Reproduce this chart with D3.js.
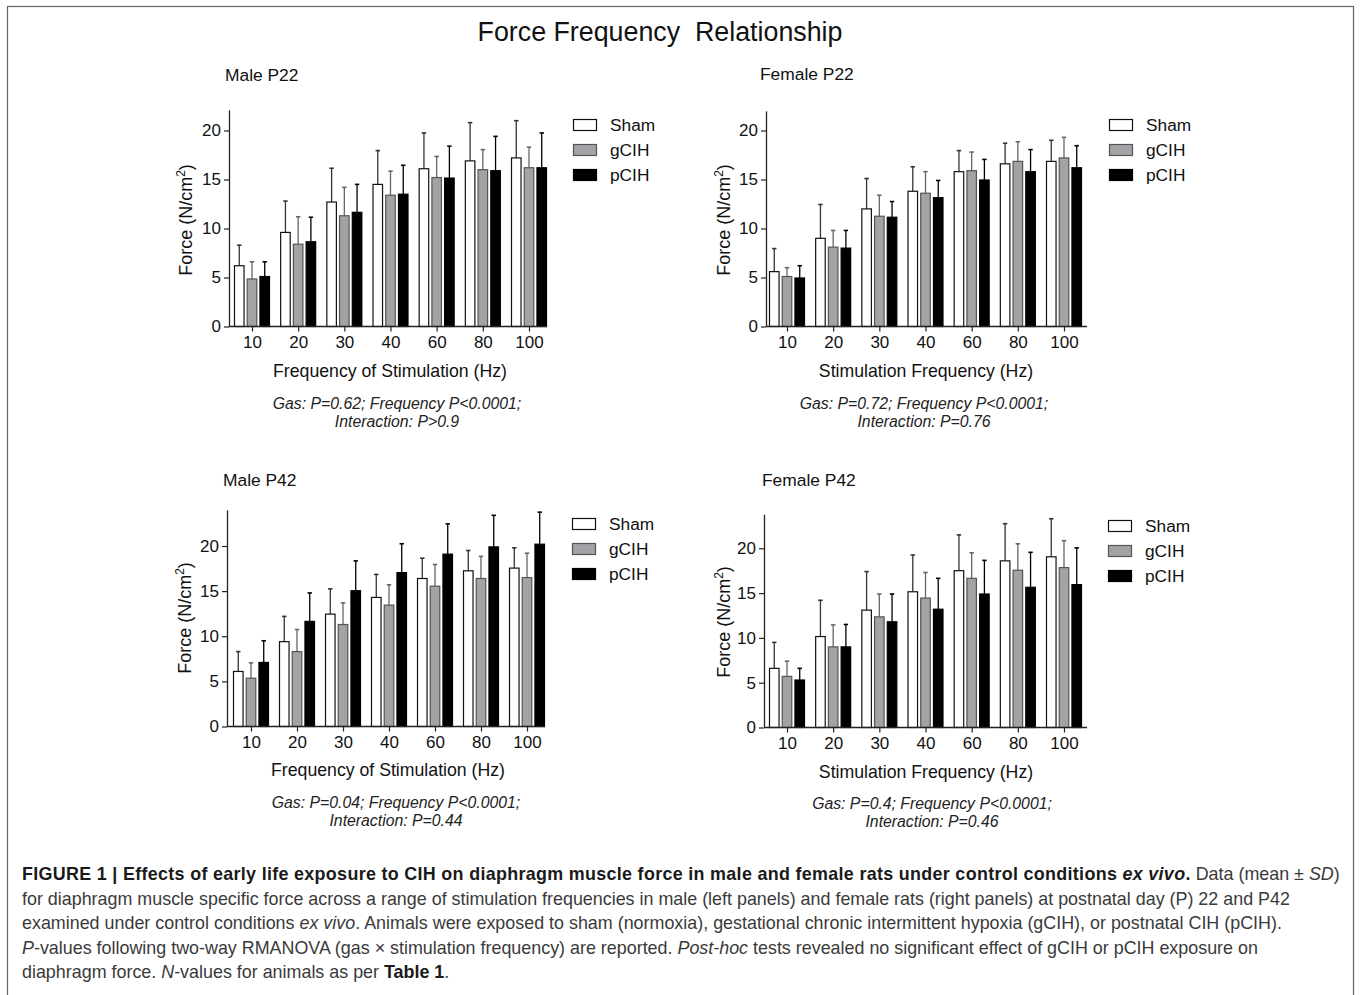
<!DOCTYPE html>
<html lang="en">
<head>
<meta charset="UTF-8">
<title>Force Frequency Relationship</title>
<script src="https://cdn.jsdelivr.net/npm/d3@7"></script>
<style>
  body { margin: 0; background: #fff; }
  text { font-family: "Liberation Sans", Arial, Helvetica, sans-serif; }
</style>
</head>
<body>
<svg id="fig" width="1360" height="995"></svg>
<script>
// ---- data (mean and SD, N/cm2) ----
const freqs = ["10", "20", "30", "40", "60", "80", "100"];
const groups = ["Sham", "gCIH", "pCIH"];
const yTicks = [0, 5, 10, 15, 20];

const maleP22Sham = [6.2, 9.6, 12.7, 14.5, 16.1, 16.9, 17.2];
const maleP22ShamSD = [2.1, 3.2, 3.45, 3.45, 3.65, 3.9, 3.8];
const maleP22gCIH = [4.85, 8.4, 11.3, 13.4, 15.2, 16.0, 16.2];
const maleP22gCIHSD = [1.75, 2.8, 2.9, 2.45, 2.15, 2.05, 2.1];
const maleP22pCIH = [5.1, 8.65, 11.65, 13.5, 15.15, 15.9, 16.2];
const maleP22pCIHSD = [1.5, 2.5, 2.85, 2.95, 3.25, 3.5, 3.55];

const femaleP22Sham = [5.6, 9.0, 12.0, 13.8, 15.8, 16.6, 16.85];
const femaleP22ShamSD = [2.35, 3.45, 3.1, 2.5, 2.15, 2.1, 2.15];
const femaleP22gCIH = [5.1, 8.1, 11.25, 13.6, 15.9, 16.85, 17.2];
const femaleP22gCIHSD = [0.9, 1.7, 2.15, 2.2, 1.9, 2.0, 2.1];
const femaleP22pCIH = [4.95, 8.0, 11.15, 13.15, 14.95, 15.8, 16.2];
const femaleP22pCIHSD = [1.25, 1.8, 1.6, 1.75, 2.1, 2.25, 2.25];

const maleP42Sham = [6.1, 9.4, 12.45, 14.3, 16.4, 17.25, 17.55];
const maleP42ShamSD = [2.2, 2.8, 2.8, 2.55, 2.25, 2.25, 2.25];
const maleP42gCIH = [5.35, 8.3, 11.3, 13.45, 15.55, 16.4, 16.5];
const maleP42gCIHSD = [1.7, 2.45, 2.4, 2.25, 2.4, 2.45, 2.7];
const maleP42pCIH = [7.1, 11.65, 15.05, 17.05, 19.1, 19.9, 20.2];
const maleP42pCIHSD = [2.4, 3.15, 3.3, 3.2, 3.35, 3.5, 3.55];

const femaleP42Sham = [6.6, 10.15, 13.1, 15.15, 17.5, 18.6, 19.05];
const femaleP42ShamSD = [2.9, 4.05, 4.3, 4.1, 4.0, 4.15, 4.25];
const femaleP42gCIH = [5.7, 9.0, 12.35, 14.45, 16.65, 17.55, 17.85];
const femaleP42gCIHSD = [1.7, 2.45, 2.55, 2.85, 2.85, 2.95, 3.0];
const femaleP42pCIH = [5.3, 9.0, 11.8, 13.2, 14.9, 15.65, 15.95];
const femaleP42pCIHSD = [1.3, 2.5, 3.1, 3.45, 3.75, 3.9, 4.1];

const panelTitles = ["Male P22", "Female P22", "Male P42", "Female P42"];
const xTitles = ["Frequency of Stimulation (Hz)", "Stimulation Frequency (Hz)",
                 "Frequency of Stimulation (Hz)", "Stimulation Frequency (Hz)"];
const statLines = [
  ["Gas: P=0.62; Frequency P<0.0001;", "Interaction: P>0.9"],
  ["Gas: P=0.72; Frequency P<0.0001;", "Interaction: P=0.76"],
  ["Gas: P=0.04; Frequency P<0.0001;", "Interaction: P=0.44"],
  ["Gas: P=0.4; Frequency P<0.0001;", "Interaction: P=0.46"]
];

const panelData = [
  [[maleP22Sham, maleP22ShamSD], [maleP22gCIH, maleP22gCIHSD], [maleP22pCIH, maleP22pCIHSD]],
  [[femaleP22Sham, femaleP22ShamSD], [femaleP22gCIH, femaleP22gCIHSD], [femaleP22pCIH, femaleP22pCIHSD]],
  [[maleP42Sham, maleP42ShamSD], [maleP42gCIH, maleP42gCIHSD], [maleP42pCIH, maleP42pCIHSD]],
  [[femaleP42Sham, femaleP42ShamSD], [femaleP42gCIH, femaleP42gCIHSD], [femaleP42pCIH, femaleP42pCIHSD]]
];

// ---- layout (pixels) ----
const layout = [
  {ax0: 229, ax1: 547, c0: 252, c1: 529, y0: 326.5, y20: 130.5, top: 22.1,
   title: [225, 81], ylab: [186, 220], xlab: [390, 377], stat: [397, 409], leg: [573, 119]},
  {ax0: 766, ax1: 1087, c0: 787, c1: 1064, y0: 326.5, y20: 130.5, top: 22.0,
   title: [760, 80], ylab: [724, 220], xlab: [926, 377], stat: [924, 409], leg: [1109, 119]},
  {ax0: 227, ax1: 545, c0: 251, c1: 527, y0: 726.5, y20: 546, top: 24.0,
   title: [223, 486], ylab: [185, 618], xlab: [388, 776], stat: [396, 808], leg: [572, 518]},
  {ax0: 764, ax1: 1087, c0: 787, c1: 1064, y0: 727.5, y20: 548.3, top: 23.8,
   title: [762, 486], ylab: [724, 622], xlab: [926, 778], stat: [932, 809], leg: [1108, 520]}
];

const fills = {Sham: "#ffffff", gCIH: "#a3a3a7", pCIH: "#000000"};
const strokes = {Sham: "#111", gCIH: "#555", pCIH: "#000"};
const errColor = {Sham: "#333", gCIH: "#666", pCIH: "#000"};

const svg = d3.select("#fig");

// frame
svg.append("rect")
  .attr("x", 7.5).attr("y", 6.5).attr("width", 1346).attr("height", 1000)
  .attr("fill", "none").attr("stroke", "#666").attr("stroke-width", 1.2);

svg.append("text")
  .attr("x", 660).attr("y", 41).attr("text-anchor", "middle")
  .attr("font-size", 26.8).attr("fill", "#111")
  .attr("xml:space", "preserve")
  .text("Force Frequency  Relationship");

layout.forEach((L, p) => {
  const g = svg.append("g");
  const ppu = (L.y0 - L.y20) / 20;
  const y = d3.scaleLinear().domain([0, L.top]).range([L.y0, L.y0 - L.top * ppu]);
  const x = d3.scalePoint().domain(freqs).range([L.c0, L.c1]);
  const inner = d3.scaleBand().domain(groups).range([-17.5, 17.5]).paddingInner(0.25);

  // panel title
  g.append("text").attr("x", L.title[0]).attr("y", L.title[1])
    .attr("font-size", 17.4).attr("fill", "#111").text(panelTitles[p]);

  const rows = [];
  groups.forEach((grp, gi) => {
    freqs.forEach((f, fi) => {
      rows.push({grp, f, mean: panelData[p][gi][0][fi], sd: panelData[p][gi][1][fi]});
    });
  });

  // error bars (upper only, drawn behind the bars)
  const cx = d => x(d.f) + inner(d.grp) + inner.bandwidth() / 2;
  const eb = g.selectAll(".err").data(rows).enter().append("g").attr("class", "err")
    .attr("stroke", d => errColor[d.grp]).attr("stroke-width", 1.3);
  eb.append("line")
    .attr("x1", cx).attr("x2", cx)
    .attr("y1", d => y(d.mean)).attr("y2", d => y(d.mean + d.sd));
  eb.append("line")
    .attr("x1", d => cx(d) - 2.2).attr("x2", d => cx(d) + 2.2)
    .attr("y1", d => y(d.mean + d.sd)).attr("y2", d => y(d.mean + d.sd))
    .attr("stroke-width", 1.6);

  g.selectAll(".bar").data(rows).enter().append("rect").attr("class", "bar")
    .attr("x", d => x(d.f) + inner(d.grp))
    .attr("width", inner.bandwidth())
    .attr("y", d => y(d.mean))
    .attr("height", d => y(0) - y(d.mean))
    .attr("fill", d => fills[d.grp])
    .attr("stroke", d => strokes[d.grp])
    .attr("stroke-width", 1.2);

  // y axis
  const ya = g.append("g").attr("transform", `translate(${L.ax0},0)`)
    .call(d3.axisLeft(y).tickValues(yTicks).tickSize(5).tickSizeOuter(0).tickPadding(3));
  ya.select(".domain").attr("stroke", "#222").attr("stroke-width", 1.3);
  ya.selectAll(".tick line").attr("stroke", "#222").attr("stroke-width", 1.2);
  ya.selectAll(".tick text").attr("font-size", 17).attr("fill", "#111")
    .attr("font-family", "Liberation Sans, Arial, sans-serif");

  // x axis
  const xa = g.append("g").attr("transform", `translate(0,${L.y0})`)
    .call(d3.axisBottom(x).tickSize(5).tickPadding(4));
  xa.select(".domain").remove();
  xa.append("line").attr("x1", L.ax0).attr("x2", L.ax1)
    .attr("stroke", "#222").attr("stroke-width", 1.3);
  xa.selectAll(".tick line").attr("stroke", "#222").attr("stroke-width", 1.2);
  xa.selectAll(".tick text").attr("font-size", 17).attr("fill", "#111")
    .attr("font-family", "Liberation Sans, Arial, sans-serif");

  // axis titles
  const yl = g.append("text")
    .attr("transform", `translate(${L.ylab[0] + 6},${L.ylab[1]}) rotate(-90)`)
    .attr("text-anchor", "middle").attr("font-size", 18).attr("fill", "#111");
  yl.append("tspan").text("Force (N/cm");
  yl.append("tspan").attr("font-size", 12).attr("dy", -7).text("2");
  yl.append("tspan").attr("dy", 7).text(")");

  g.append("text").attr("x", L.xlab[0]).attr("y", L.xlab[1])
    .attr("text-anchor", "middle").attr("font-size", 17.7).attr("fill", "#111")
    .text(xTitles[p]);

  g.selectAll(".stat").data(statLines[p]).enter().append("text")
    .attr("x", L.stat[0]).attr("y", (d, i) => L.stat[1] + i * 18)
    .attr("text-anchor", "middle").attr("font-size", 15.8)
    .attr("font-style", "italic").attr("fill", "#222").text(d => d);

  // legend
  const lg = g.selectAll(".leg").data(groups).enter().append("g")
    .attr("transform", (d, i) => `translate(${L.leg[0]},${L.leg[1] + i * 25})`);
  lg.append("rect").attr("x", 0.5).attr("y", 0.5).attr("width", 23).attr("height", 11)
    .attr("fill", d => fills[d]).attr("stroke", d => strokes[d]).attr("stroke-width", 1.2);
  lg.append("text").attr("x", 37).attr("y", 12).attr("font-size", 17.3)
    .attr("fill", "#111").text(d => d);
});

// caption
const captionLines = [
  [["b", "FIGURE 1 | Effects of early life exposure to CIH on diaphragm muscle force in male and female rats under control conditions "],
   ["bi", "ex vivo"], ["b", "."], ["n", " Data (mean \u00b1 "], ["i", "SD"], ["n", ")"]],
  [["n", "for diaphragm muscle specific force across a range of stimulation frequencies in male (left panels) and female rats (right panels) at postnatal day (P) 22 and P42"]],
  [["n", "examined under control conditions "], ["i", "ex vivo"],
   ["n", ". Animals were exposed to sham (normoxia), gestational chronic intermittent hypoxia (gCIH), or postnatal CIH (pCIH)."]],
  [["i", "P"], ["n", "-values following two-way RMANOVA (gas \u00d7 stimulation frequency) are reported. "],
   ["i", "Post-hoc"], ["n", " tests revealed no significant effect of gCIH or pCIH exposure on"]],
  [["n", "diaphragm force. "], ["i", "N"], ["n", "-values for animals as per "], ["b", "Table 1"], ["n", "."]]
];

captionLines.forEach((line, i) => {
  const t = svg.append("text").attr("x", 22).attr("y", 880 + i * 24.5)
    .attr("font-size", 17.9).attr("fill", "#3a3a3a").attr("xml:space", "preserve");
  line.forEach(([s, str]) => {
    t.append("tspan")
      .attr("font-weight", s.includes("b") ? "bold" : null)
      .attr("font-style", s.includes("i") ? "italic" : null)
      .attr("fill", s.includes("b") ? "#1a1a1a" : null)
      .attr("letter-spacing", s.includes("b") && i === 0 ? 0.32 : null)
      .text(str);
  });
});
</script>
</body>
</html>
